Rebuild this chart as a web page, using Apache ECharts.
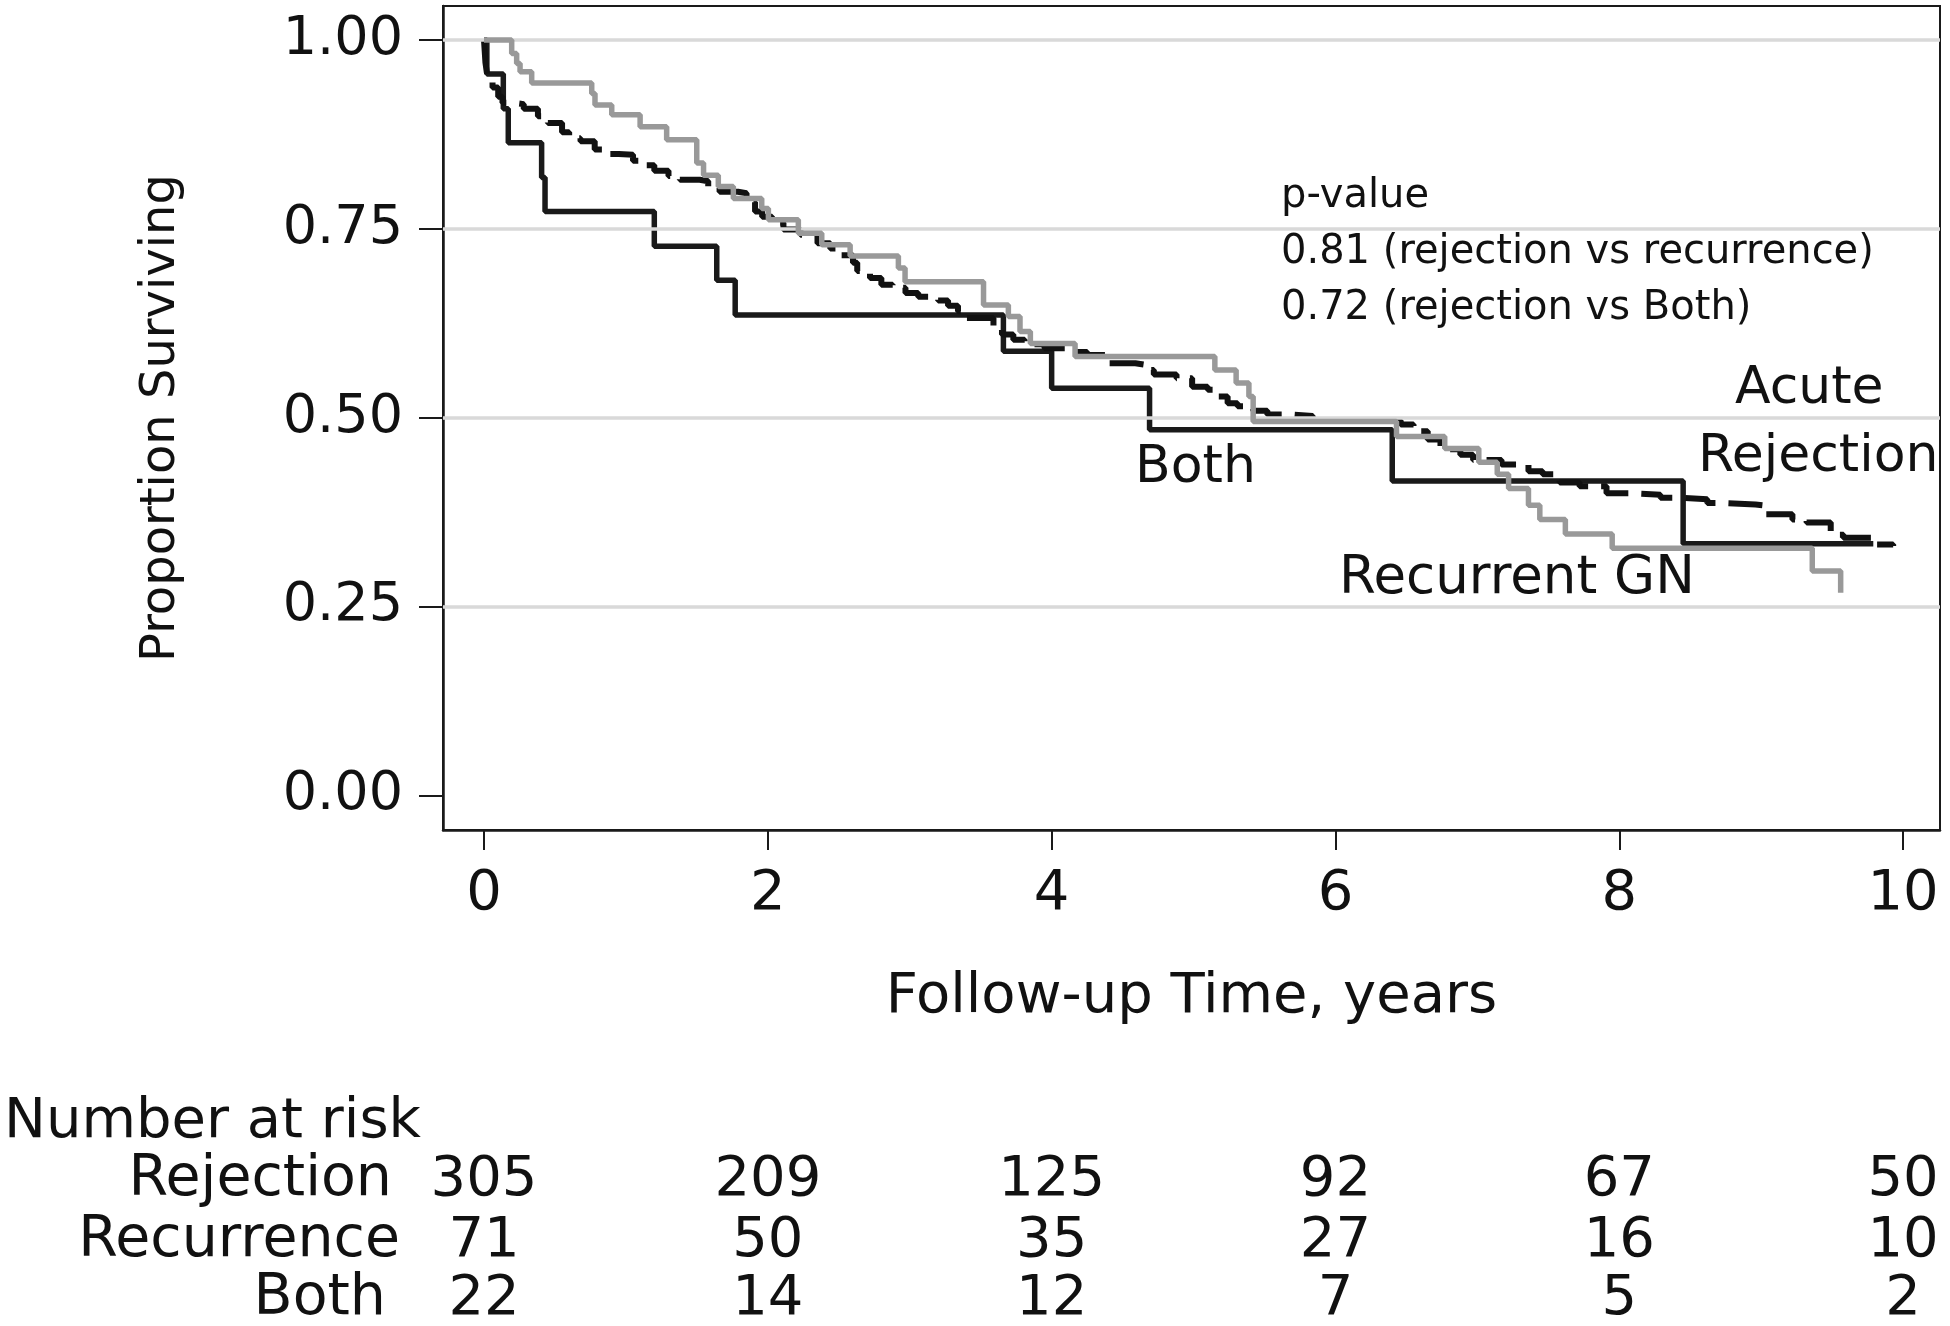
<!DOCTYPE html>
<html><head><meta charset="utf-8">
<script src="https://cdn.jsdelivr.net/npm/echarts@6/dist/echarts.min.js"></script>
<style>html,body{margin:0;padding:0;background:#fff}#c{width:1950px;height:1326px}</style>
</head><body><div id="c"></div>
<script>
// ---------- data ----------
const xTicks = [0, 2, 4, 6, 8, 10];
const yTicks = [0, 0.25, 0.5, 0.75, 1];
const yGridLines = [0.25, 0.5, 0.75, 1];

const rejTime = [0,0.005,0.01,0.02,0.03,0.06,0.10,0.13,0.20,0.28,0.38,0.45,0.55,0.60,0.68,0.78,0.85,0.95,1.05,1.13,1.20,1.30,1.38,1.52,1.58,1.66,1.79,1.85,1.91,1.96,2.03,2.11,2.23,2.35,2.44,2.52,2.60,2.63,2.72,2.80,2.88,2.97,3.06,3.20,3.27,3.34,3.38,3.59,3.65,3.73,3.81,3.95,4.10,4.25,4.40,4.59,4.66,4.72,4.88,4.99,5.10,5.17,5.24,5.31,5.42,5.52,5.70,5.84,6.22,6.46,6.55,6.65,6.74,6.88,6.97,7.17,7.36,7.46,7.58,7.72,7.91,8.08,8.29,8.43,8.62,8.71,8.96,9.01,9.22,9.32,9.49,9.58,9.79,9.93];
const rejSurv = [1,0.985,0.970,0.957,0.947,0.937,0.925,0.917,0.915,0.909,0.899,0.890,0.878,0.870,0.866,0.855,0.849,0.848,0.840,0.834,0.827,0.820,0.815,0.813,0.806,0.799,0.797,0.785,0.773,0.766,0.758,0.749,0.742,0.731,0.724,0.715,0.705,0.694,0.685,0.676,0.672,0.665,0.660,0.655,0.648,0.641,0.632,0.621,0.610,0.603,0.597,0.592,0.587,0.583,0.572,0.570,0.563,0.557,0.552,0.541,0.537,0.528,0.519,0.515,0.509,0.504,0.502,0.497,0.496,0.491,0.482,0.471,0.458,0.451,0.444,0.438,0.429,0.425,0.414,0.409,0.400,0.398,0.394,0.392,0.387,0.385,0.384,0.372,0.365,0.361,0.345,0.341,0.332,0.330];

const recTime = [0,0.195,0.23,0.254,0.336,0.759,0.782,0.90,1.10,1.287,1.499,1.547,1.651,1.757,1.957,2.004,2.215,2.38,2.58,2.92,2.967,3.52,3.695,3.777,3.85,4.165,5.15,5.30,5.39,5.42,6.43,6.77,7.01,7.14,7.22,7.36,7.44,7.62,7.95,9.36,9.56];
const recSurv = [1,0.982,0.969,0.958,0.943,0.929,0.914,0.901,0.885,0.868,0.837,0.821,0.806,0.790,0.777,0.762,0.744,0.729,0.714,0.698,0.680,0.649,0.634,0.614,0.598,0.581,0.563,0.546,0.528,0.495,0.475,0.459,0.441,0.425,0.406,0.384,0.365,0.346,0.327,0.297,0.268];

const bothTime = [0,0.02,0.136,0.171,0.406,0.43,1.20,1.64,1.77,3.66,4.00,4.69,6.40,8.45,9.79];
const bothSurv = [1,0.955,0.909,0.864,0.818,0.773,0.727,0.682,0.636,0.588,0.539,0.484,0.416,0.333,0.333];

const riskTimes = [0, 2, 4, 6, 8, 10];
const riskRows = ['Rejection', 'Recurrence', 'Both'];
const riskRejection = [305, 209, 125, 92, 67, 50];
const riskRecurrence = [71, 50, 35, 27, 16, 10];
const riskBoth = [22, 14, 12, 7, 5, 2];

const pLines = ['p-value', '0.81 (rejection vs recurrence)', '0.72 (rejection vs Both)'];

// ---------- chart ----------
const FONT = "'DejaVu Sans', sans-serif";
const INK = '#111111';
const zip = (a, b) => a.map((v, i) => [v, b[i]]);

const chart = echarts.init(document.getElementById('c'), null, {renderer: 'canvas'});

chart.setOption({
  animation: false,
  backgroundColor: '#ffffff',
  textStyle: {fontFamily: FONT, color: INK},
  grid: {left: 443, right: 10, top: 6, bottom: 496, show: true, borderColor: '#1a1a1a', borderWidth: 2, backgroundColor: 'transparent'},
  xAxis: {
    type: 'value', min: -0.289, max: 10.26,
    name: 'Follow-up Time, years', nameLocation: 'middle', nameGap: 139,
    nameTextStyle: {fontSize: 56, fontFamily: FONT, color: INK},
    axisLine: {show: true, onZero: false, lineStyle: {color: '#1a1a1a', width: 2.5}},
    axisTick: {show: true, length: 20, customValues: xTicks, lineStyle: {color: '#1a1a1a', width: 2}},
    axisLabel: {customValues: xTicks, fontSize: 56, fontFamily: FONT, color: INK, margin: 36},
    splitLine: {show: false}
  },
  yAxis: {
    type: 'value', min: -0.046, max: 1.045,
    name: 'Proportion Surviving', nameLocation: 'middle', nameGap: 257, nameRotate: 90,
    nameTextStyle: {fontSize: 48, fontFamily: FONT, color: INK},
    axisLine: {show: true, onZero: false, lineStyle: {color: '#1a1a1a', width: 2.5}},
    axisTick: {show: true, length: 24, customValues: yTicks, lineStyle: {color: '#1a1a1a', width: 2}},
    axisLabel: {customValues: yTicks, fontSize: 54, fontFamily: FONT, color: INK, margin: 40,
      padding: [5, 0, 0, 0], formatter: v => Number(v).toFixed(2)},
    splitLine: {show: false}
  },
  series: [
    {
      type: 'line', name: 'grid', data: [], z: 1, silent: true,
      markLine: {
        silent: true, symbol: ['none', 'none'], label: {show: false},
        lineStyle: {color: '#d9d9d9', width: 3.5, type: 'solid'},
        emphasis: {disabled: true},
        data: yGridLines.map(v => ({yAxis: v}))
      }
    },
    {
      type: 'line', name: 'Both', step: 'end', showSymbol: false, z: 3,
      data: zip(bothTime, bothSurv),
      lineStyle: {color: '#1a1a1a', width: 5.5}
    },
    {
      type: 'line', name: 'Acute Rejection', step: 'end', showSymbol: false, z: 4,
      data: zip(rejTime, rejSurv),
      lineStyle: {color: '#111111', width: 6, type: [34, 13]}
    },
    {
      type: 'line', name: 'Recurrent GN', step: 'end', showSymbol: false, z: 5,
      data: zip(recTime, recSurv),
      lineStyle: {color: '#999999', width: 5.5}
    }
  ]
});

function txt(x, y, s, size, align) {
  return {type: 'text', x: x, y: y, silent: true, z: 10,
    style: {text: s, fill: INK, fontSize: size, fontFamily: FONT, align: align || 'left', verticalAlign: 'middle'}};
}

const g = [];
// p-value block
const pBase = [197, 253, 309];
pLines.forEach((s, i) => g.push(txt(1281, pBase[i], s, 40, 'left')));
// curve labels
g.push(txt(1135, 468, 'Both', 52, 'left'));
g.push(txt(1339, 579, 'Recurrent GN', 53, 'left'));
g.push(txt(1735, 389, 'Acute', 52, 'left'));
g.push(txt(1698, 457, 'Rejection', 52, 'left'));
// number at risk table
g.push(txt(4, 1122, 'Number at risk', 56, 'left'));
const rowY = [1180, 1241, 1299];
const rowRight = [392, 400, 386];
const rowVals = [riskRejection, riskRecurrence, riskBoth];
riskRows.forEach((name, r) => {
  g.push(txt(rowRight[r], rowY[r], name, 57, 'right'));
  riskTimes.forEach((t, i) => {
    const px = chart.convertToPixel({xAxisIndex: 0}, t);
    g.push(txt(px, rowY[r], String(rowVals[r][i]), 56, 'center'));
  });
});
chart.setOption({graphic: g});
</script>
</body></html>
